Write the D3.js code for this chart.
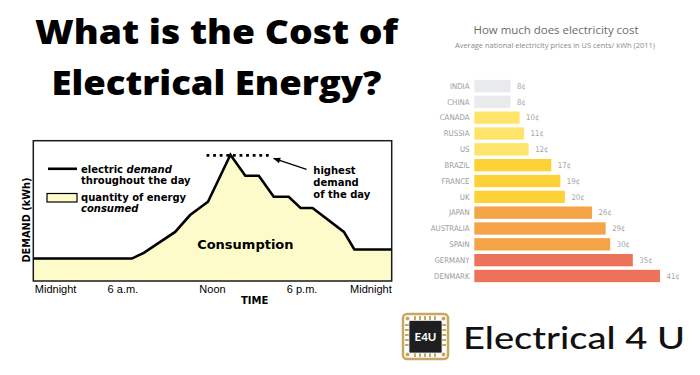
<!DOCTYPE html>
<html>
<head>
<meta charset="utf-8">
<title>What is the Cost of Electrical Energy?</title>
<script src="https://cdn.jsdelivr.net/npm/d3@7"></script>
<style>
  body { margin: 0; background: #fff; }
  svg { display: block; }
</style>
</head>
<body>
<svg id="chart" width="700" height="375"></svg>
<script>
// ---- demand curve (hours of the day, relative demand) ----
const hours  = [0, 6.6, 7.4, 9.5, 10.5, 11.7, 13.2, 14.2, 15.1, 16.1, 17.1, 17.9, 18.7, 20.8, 21.5, 24];
const demand = [16, 16, 20, 35, 47, 56.5, 90, 75, 75, 60, 60, 52, 52, 35, 22.5, 22.5];
const timeTicks  = [0, 6, 12, 18, 24];
const timeLabels = ["Midnight", "6 a.m.", "Noon", "6 p.m.", "Midnight"];

// ---- electricity prices (US cents / kWh, 2011) ----
const countries = ["INDIA", "CHINA", "CANADA", "RUSSIA", "US", "BRAZIL", "FRANCE", "UK",
                   "JAPAN", "AUSTRALIA", "SPAIN", "GERMANY", "DENMARK"];
const prices    = [8, 8, 10, 11, 12, 17, 19, 20, 26, 29, 30, 35, 41];
const priceBand = ["low", "low", "mid", "mid", "mid", "high", "high", "high",
                   "top", "top", "top", "max", "max"];

var svg = d3.select("#chart");

// ---------------- big title ----------------
var title = svg.append("g")
    .attr("font-family", "'Open Sans', sans-serif")
    .attr("font-weight", 800)
    .attr("font-size", 33)
    .attr("fill", "#000")
    .attr("text-anchor", "middle");
title.append("text").attr("x", 216.5).attr("y", 43.5)
    .attr("textLength", 363).attr("lengthAdjust", "spacingAndGlyphs")
    .text("What is the Cost of");
title.append("text").attr("x", 216.5).attr("y", 94.5)
    .attr("textLength", 330).attr("lengthAdjust", "spacingAndGlyphs")
    .text("Electrical Energy?");

// ---------------- demand chart ----------------
var x = d3.scaleLinear().domain([0, 24]).range([33.3, 391.7]);
var y = d3.scaleLinear().domain([0, 100]).range([281, 140.7]);

var pts = hours.map(function(h, i) { return [h, demand[i]]; });

var left = svg.append("g");

left.append("path")
    .datum(pts)
    .attr("fill", "#fdfbc9")
    .attr("d", d3.area()
        .x(function(d) { return x(d[0]); })
        .y0(y(0))
        .y1(function(d) { return y(d[1]); }));

left.append("rect")
    .attr("x", x(0)).attr("y", y(100))
    .attr("width", x(24) - x(0)).attr("height", y(0) - y(100))
    .attr("fill", "none").attr("stroke", "#1a1a1a").attr("stroke-width", 1.5);

left.append("path")
    .datum(pts)
    .attr("fill", "none")
    .attr("stroke", "#000")
    .attr("stroke-width", 2.6)
    .attr("stroke-linejoin", "miter")
    .attr("d", d3.line()
        .x(function(d) { return x(d[0]); })
        .y(function(d) { return y(d[1]); }));

// peak marker
var peak = d3.max(demand);
left.append("line")
    .attr("x1", x(11.6)).attr("x2", x(15.9))
    .attr("y1", y(peak) + 0.6).attr("y2", y(peak) + 0.6)
    .attr("stroke", "#000").attr("stroke-width", 2.6)
    .attr("stroke-dasharray", "2.8,3.8");

svg.append("defs").append("marker")
    .attr("id", "arr").attr("viewBox", "0 0 10 10")
    .attr("refX", 9).attr("refY", 5)
    .attr("markerWidth", 7).attr("markerHeight", 6)
    .attr("orient", "auto")
  .append("path").attr("d", "M0,1 L10,5 L0,9 Z").attr("fill", "#000");

left.append("line")
    .attr("x1", x(18.3)).attr("y1", y(79.6))
    .attr("x2", x(16.1)).attr("y2", y(87.4))
    .attr("stroke", "#000").attr("stroke-width", 1.2)
    .attr("marker-end", "url(#arr)");

var bold = "'DejaVu Sans', sans-serif";

var note = left.append("text")
    .attr("font-family", bold).attr("font-weight", "bold").attr("font-size", 10);
["highest", "demand", "of the day"].forEach(function(t, i) {
    note.append("tspan").attr("x", x(18.75)).attr("y", 174 + i * 12).text(t);
});

// legend
left.append("line")
    .attr("x1", 48).attr("x2", 77).attr("y1", 168.8).attr("y2", 168.8)
    .attr("stroke", "#000").attr("stroke-width", 2.6);
left.append("rect")
    .attr("x", 47).attr("y", 193.5).attr("width", 30).attr("height", 8.5)
    .attr("fill", "#fdfbc9").attr("stroke", "#000").attr("stroke-width", 1.2);

var leg = left.append("g")
    .attr("font-family", bold).attr("font-weight", "bold").attr("font-size", 10);
var l1 = leg.append("text").attr("x", 81).attr("y", 172.5);
l1.append("tspan").text("electric ");
l1.append("tspan").attr("font-style", "italic").text("demand");
leg.append("text").attr("x", 81).attr("y", 183.5).text("throughout the day");
leg.append("text").attr("x", 81).attr("y", 201).text("quantity of energy");
leg.append("text").attr("x", 81).attr("y", 212).attr("font-style", "italic").text("consumed");

left.append("text")
    .attr("x", x(14.2)).attr("y", 248.5)
    .attr("text-anchor", "middle")
    .attr("font-family", bold).attr("font-weight", "bold").attr("font-size", 13)
    .text("Consumption");

// time axis labels
left.selectAll(".tick-label")
    .data(timeTicks)
    .enter().append("text")
    .attr("class", "tick-label")
    .attr("x", function(d, i) { return i === 0 ? x(d) + 1.5 : x(d); })
    .attr("y", 292.8)
    .attr("text-anchor", function(d, i) {
        return i === 0 ? "start" : (i === timeTicks.length - 1 ? "end" : "middle");
    })
    .attr("font-family", "'Liberation Sans', Arial, sans-serif")
    .attr("font-size", 11)
    .text(function(d, i) { return timeLabels[i]; });

left.append("text")
    .attr("x", 254.7).attr("y", 303.5)
    .attr("text-anchor", "middle")
    .attr("font-family", bold).attr("font-weight", "bold").attr("font-size", 10)
    .text("TIME");

left.append("text")
    .attr("transform", "translate(30,220) rotate(-90)")
    .attr("text-anchor", "middle")
    .attr("font-family", bold).attr("font-weight", "bold").attr("font-size", 9.8)
    .text("DEMAND (kWh)");

// ---------------- price bar chart ----------------
var bx = d3.scaleLinear().domain([0, 41]).range([474.3, 660]);
var by = d3.scaleBand().domain(countries).range([78.1, 283.9])
    .paddingInner(0.22).paddingOuter(0.11);
var color = d3.scaleOrdinal()
    .domain(["low", "mid", "high", "top", "max"])
    .range(["#e9eaec", "#fee46b", "#fed236", "#f4a447", "#ec725a"]);

var right = svg.append("g");

right.append("text")
    .attr("x", 556).attr("y", 34)
    .attr("text-anchor", "middle")
    .attr("font-family", "'Open Sans', sans-serif").attr("font-size", 11)
    .attr("fill", "#6b6b6b")
    .attr("textLength", 165).attr("lengthAdjust", "spacingAndGlyphs")
    .text("How much does electricity cost");
right.append("text")
    .attr("x", 555).attr("y", 47.5)
    .attr("text-anchor", "middle")
    .attr("font-family", "'Open Sans', sans-serif").attr("font-size", 7)
    .attr("fill", "#8a8a8a")
    .attr("textLength", 200).attr("lengthAdjust", "spacingAndGlyphs")
    .text("Average national electricity prices in US cents/ kWh (2011)");

right.selectAll(".bar")
    .data(prices)
    .enter().append("rect")
    .attr("class", "bar")
    .attr("x", bx(0))
    .attr("y", function(d, i) { return by(countries[i]); })
    .attr("width", function(d) { return bx(d) - bx(0); })
    .attr("height", by.bandwidth())
    .attr("fill", function(d, i) { return color(priceBand[i]); });

var narrow = "'Liberation Sans Narrow', 'DejaVu Sans Condensed', sans-serif";

right.selectAll(".cat")
    .data(countries)
    .enter().append("text")
    .attr("class", "cat")
    .attr("x", 469.5)
    .attr("y", function(d) { return by(d) + by.bandwidth() / 2 + 2.8; })
    .attr("text-anchor", "end")
    .attr("font-family", narrow).attr("font-size", 7.8)
    .attr("fill", "#9a9a9a")
    .text(function(d) { return d; });

right.selectAll(".val")
    .data(prices)
    .enter().append("text")
    .attr("class", "val")
    .attr("x", function(d) { return bx(d) + 6.5; })
    .attr("y", function(d, i) { return by(countries[i]) + by.bandwidth() / 2 + 2.8; })
    .attr("font-family", narrow).attr("font-size", 7.8)
    .attr("fill", "#a5a5a5")
    .text(function(d) { return d + "¢"; });

// ---------------- logo ----------------
var logo = svg.append("g");
var gold = "#c8a765";
logo.append("rect")
    .attr("x", 403).attr("y", 314).attr("width", 45).attr("height", 45).attr("rx", 4)
    .attr("fill", "#fff").attr("stroke", gold).attr("stroke-width", 2.5);
d3.range(5).forEach(function(k) {
    var p = 415 + k * 5, q = 325 + k * 5;
    logo.append("line").attr("x1", p).attr("x2", p).attr("y1", 316).attr("y2", 321)
        .attr("stroke", gold).attr("stroke-width", 2);
    logo.append("line").attr("x1", p).attr("x2", p).attr("y1", 352).attr("y2", 357)
        .attr("stroke", gold).attr("stroke-width", 2);
    logo.append("line").attr("x1", 405).attr("x2", 410).attr("y1", q).attr("y2", q)
        .attr("stroke", gold).attr("stroke-width", 2);
    logo.append("line").attr("x1", 441).attr("x2", 446).attr("y1", q).attr("y2", q)
        .attr("stroke", gold).attr("stroke-width", 2);
});
[[407.5, 318.5], [443.5, 318.5], [407.5, 354.5], [443.5, 354.5]].forEach(function(c) {
    logo.append("circle").attr("cx", c[0]).attr("cy", c[1]).attr("r", 2).attr("fill", gold);
});
logo.append("rect")
    .attr("x", 409).attr("y", 320.5).attr("width", 33).attr("height", 32.5).attr("rx", 1.5)
    .attr("fill", "#1f1f1f").attr("stroke", "#e8e8e8").attr("stroke-width", 0.8);
logo.append("text")
    .attr("x", 425.5).attr("y", 341)
    .attr("text-anchor", "middle")
    .attr("font-family", "Lato, sans-serif").attr("font-weight", "bold").attr("font-size", 11.5)
    .attr("fill", "#fff")
    .text("E4U");

logo.append("text")
    .attr("x", 463).attr("y", 348.5)
    .attr("font-family", "Lato, sans-serif").attr("font-weight", 500).attr("font-size", 30)
    .attr("fill", "#111")
    .attr("textLength", 222).attr("lengthAdjust", "spacingAndGlyphs")
    .text("Electrical 4 U");
</script>
</body>
</html>
